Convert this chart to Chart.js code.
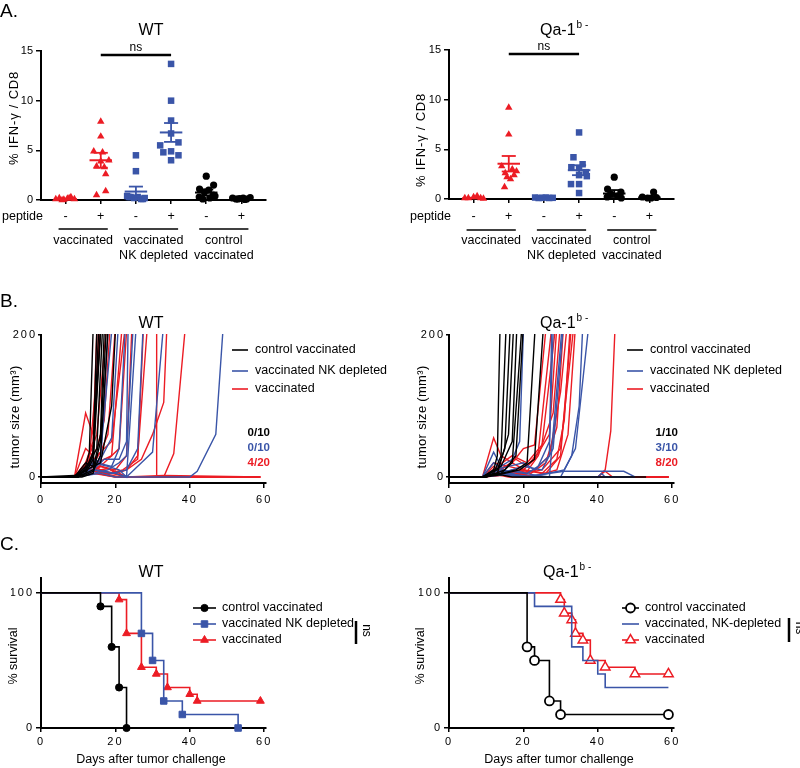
<!DOCTYPE html>
<html><head><meta charset="utf-8">
<script src="https://cdn.jsdelivr.net/npm/chart.js@4.4.1/dist/chart.umd.min.js"></script>
<style>
html,body{margin:0;padding:0;background:#fff;}
#fig{position:relative;width:800px;height:768px;overflow:hidden;background:#fff;}
#fig canvas{position:absolute;left:0;top:0;width:800px;height:768px;}
</style></head><body>
<div id="fig">
<canvas id="aWT" width="800" height="768"></canvas>
<canvas id="aQA" width="800" height="768"></canvas>
<canvas id="bWT" width="800" height="768"></canvas>
<canvas id="bQA" width="800" height="768"></canvas>
<canvas id="cWT" width="800" height="768"></canvas>
<canvas id="cQA" width="800" height="768"></canvas>
</div>
<script>
// ---------------- DATA ----------------
// Panel A: % IFN-γ / CD8, six columns (peptide - / + for three groups)
const aPeptide = ['-', '+', '-', '+', '-', '+'];
const aGroupLabels = ['vaccinated', 'vaccinated\nNK depleted', 'control\nvaccinated'];
const aTicks = [0, 5, 10, 15];

const wtIfnValues = [
  [0.1, 0.2, 0.05, 0.15, 0.3, 0.1, 0.0, 0.2],
  [7.9, 6.4, 4.9, 4.8, 4.0, 3.9, 3.4, 3.3, 2.6, 0.9, 0.5],
  [4.5, 2.9, 0.4, 0.3, 0.2, 0.3, 0.1, 0.2, 0.3, 0.1],
  [13.7, 10.0, 8.0, 6.7, 5.8, 5.5, 4.8, 4.9, 4.5, 4.0],
  [2.4, 1.5, 1.1, 1.0, 0.8, 0.5, 0.3, 0.2, 0.1, 0.4],
  [0.2, 0.1, 0.15, 0.2, 0.1, 0.25, 0.1, 0.05]
];
const wtIfnJitter = [
  [-0.28, -0.18, -0.05, 0.05, 0.15, 0.25, -0.1, 0.1],
  [0, 0, -0.2, 0.05, 0.23, 0, -0.12, 0.1, 0.14, 0.14, -0.12],
  [0, 0, -0.25, -0.15, -0.05, 0.05, 0.15, 0.25, -0.2, 0.2],
  [0, 0, 0, 0, 0.21, -0.31, -0.22, 0, 0.21, 0],
  [0, 0.21, -0.19, 0.07, -0.05, 0.2, -0.2, 0.1, -0.1, 0.25],
  [-0.25, -0.15, -0.05, 0.05, 0.15, 0.25, -0.1, 0.1]
];
const wtIfnMean = [0.1, 4.0, 0.85, 6.8, 0.75, 0.15];
const wtIfnSem = [0.03, 0.75, 0.5, 0.95, 0.3, 0.03];

const qaIfnValues = [
  [0.1, 0.1, 0.2, 0.3, 0.1, 0.05],
  [9.2, 6.5, 3.3, 3.0, 2.8, 2.6, 2.4, 2.2, 2.0, 1.2],
  [0.15, 0.1, 0.12, 0.15, 0.1, 0.12],
  [6.7, 4.2, 3.5, 3.2, 3.1, 2.7, 2.4, 2.3, 1.5, 1.5, 0.6],
  [2.2, 1.0, 0.7, 0.5, 0.3, 0.2, 0.1],
  [0.7, 0.2, 0.1, 0.1, 0.15]
];
const qaIfnJitter = [
  [-0.25, -0.15, 0, 0.1, 0.2, 0.28],
  [0, 0, -0.2, 0.1, 0.22, -0.1, 0.15, -0.05, 0.05, -0.12],
  [-0.25, -0.15, -0.05, 0.05, 0.15, 0.25],
  [0, -0.16, 0.1, -0.22, 0, 0.19, 0, 0.22, -0.23, 0, 0],
  [0, -0.19, 0.19, -0.1, 0.1, -0.2, 0.2],
  [0.12, -0.2, -0.05, 0.05, 0.2]
];
const qaIfnMean = [0.1, 3.55, 0.12, 2.9, 0.55, 0.15];
const qaIfnSem = [0.03, 0.78, 0.02, 0.5, 0.35, 0.1];

// Panel B: tumor size (mm3) per mouse, [day, size]
const bLegend = ['control vaccinated', 'vaccinated NK depleted', 'vaccinated'];
const bYTicks = [0, 200];
const dayTicks = [0, 20, 40, 60];
const wtFractions = ['0/10', '0/10', '4/20'];
const qaFractions = ['1/10', '3/10', '8/20'];

const wtTumorControl = [
  [[0,0],[9,0],[12,8],[14,30],[15,205]],
  [[0,0],[9,0],[12,15],[13,35],[14,205]],
  [[0,0],[9,2],[12,10],[14,35],[16,205]],
  [[0,0],[10,0],[13,20],[15,40],[16.5,205]],
  [[0,0],[9,0],[12,5],[14,25],[15.5,205]],
  [[0,0],[10,0],[14,10],[16,60],[17,205]],
  [[0,0],[9,0],[12,3],[14,8],[16,30],[18,205]],
  [[0,0],[9,0],[13,12],[16,20],[19,100],[20,205]],
  [[0,0],[11,0],[14,5],[16,50],[17.5,205]],
  [[0,0],[9,0],[12,20],[14,15],[16,205]]
];
const wtTumorNK = [
  [[0,0],[9,0],[12,10],[14,25],[16,20],[18,205]],
  [[0,0],[9,0],[13,15],[16,25],[19,55],[20.7,205]],
  [[0,0],[9,0],[12,5],[15,20],[19,15],[21,40],[22.6,205]],
  [[0,0],[9,0],[14,10],[17,25],[21,25],[23,50],[23.4,205]],
  [[0,0],[9,0],[14,5],[18,10],[21,20],[23,30],[24.7,205]],
  [[0,0],[9,0],[14,20],[18,15],[21,10],[23,0],[25.5,205]],
  [[0,0],[9,0],[14,10],[19,5],[23,10],[26,40],[27.4,205]],
  [[0,0],[9,0],[15,10],[20,5],[23,0],[27,20],[30,35],[32.8,205]],
  [[0,0],[9,0],[16,5],[20,0],[40,0],[42,8],[47,60],[48.9,205]],
  [[0,0],[9,0],[14,5],[16,30],[19,205]]
];
const wtTumorVacc = [
  [[0,0],[9,0],[12,90],[14,60],[16,205]],
  [[0,0],[9,0],[12,40],[14,30],[15.5,205]],
  [[0,0],[9,0],[12,20],[14,50],[15,205]],
  [[0,0],[10,0],[13,30],[15,60],[17.5,205]],
  [[0,0],[9,0],[12,15],[15,40],[17,80],[18.5,205]],
  [[0,0],[9,0],[13,10],[16,35],[18,60],[19.9,205]],
  [[0,0],[9,0],[12,5],[15,20],[19,30],[21.7,205]],
  [[0,0],[9,0],[14,10],[17,20],[21,40],[23,205]],
  [[0,0],[9,0],[13,5],[16,15],[20,10],[23,30],[24.4,205]],
  [[0,0],[9,0],[14,10],[18,5],[22,10],[26,25],[27.5,205]],
  [[0,0],[9,0],[14,8],[18,5],[23,10],[26,30],[28.5,205]],
  [[0,0],[9,0],[14,5],[20,0],[31,0],[31.1,205]],
  [[0,0],[9,0],[15,10],[20,5],[23,10],[27,25],[30,60],[33,105],[33.8,205]],
  [[0,0],[9,0],[15,5],[20,0],[33,0],[35.7,33],[38.7,205]],
  [[0,0],[9,0],[13,25],[16,205]],
  [[0,0],[9,0],[12,10],[15,30],[19,50],[22.5,205]],
  [[0,0],[9,0],[12,15],[14,10],[17,5],[21,0],[59,0]],
  [[0,0],[9,0],[13,20],[16,10],[19,5],[23,0],[59,0]],
  [[0,0],[9,0],[14,8],[18,12],[21,3],[24,0],[59,0]],
  [[0,0],[9,0],[12,5],[16,15],[20,8],[23,0],[33,2],[59,0]]
];

const qaTumorControl = [
  [[0,0],[9,0],[12,10],[13,30],[13.7,205]],
  [[0,0],[9,0],[12,5],[14,30],[15.3,205]],
  [[0,0],[9,0],[13,10],[15,40],[16.4,205]],
  [[0,0],[10,0],[13,5],[16,60],[17.3,205]],
  [[0,0],[9,0],[14,15],[17,50],[18.2,205]],
  [[0,0],[9,0],[14,5],[17,20],[19.5,205]],
  [[0,0],[10,0],[15,10],[18,30],[19.9,205]],
  [[0,0],[9,0],[14,5],[18,10],[21,20],[23.1,205]],
  [[0,0],[9,0],[15,5],[19,10],[23,25],[25.3,205]],
  [[0,0],[9,0],[14,3],[17,0],[53,0]]
];
const qaTumorNK = [
  [[0,0],[9,0],[12,35],[14,15],[17,25],[19,50],[20,205]],
  [[0,0],[9,0],[12,10],[16,15],[20,20],[23,10],[27,30],[27.6,205]],
  [[0,0],[9,0],[13,5],[17,10],[21,5],[24,15],[27,50],[28,205]],
  [[0,0],[9,0],[14,10],[20,5],[27,0],[30.3,205]],
  [[0,0],[9,0],[14,5],[20,15],[25,10],[28,40],[30.6,205]],
  [[0,0],[9,0],[15,5],[22,0],[30,0],[33,30],[35,100],[35.9,205]],
  [[0,0],[9,0],[15,3],[22,0],[31,10],[34,40],[37.4,205]],
  [[0,0],[9,0],[12,20],[15,8],[20,0],[31,8],[47,8],[50,0]],
  [[0,0],[9,0],[14,5],[19,0],[40,0],[41,5],[42,0],[50,0]],
  [[0,0],[9,0],[13,10],[18,3],[22,0],[49,0]]
];
const qaTumorVacc = [
  [[0,0],[9,0],[12,55],[14,30],[17,20],[20,40],[23,45],[26,205]],
  [[0,0],[9,0],[12,20],[16,15],[20,10],[23,25],[27,60],[28.9,205]],
  [[0,0],[9,0],[13,10],[17,20],[21,8],[24,30],[28,90],[29.8,205]],
  [[0,0],[9,0],[14,5],[18,10],[22,5],[26,20],[29,70],[30.7,205]],
  [[0,0],[9,0],[14,8],[19,5],[23,10],[27,30],[30,120],[31.6,205]],
  [[0,0],[9,0],[15,5],[20,10],[25,5],[29,25],[31,80],[32.5,205]],
  [[0,0],[9,0],[15,3],[20,5],[25,10],[30,40],[33.4,205]],
  [[0,0],[9,0],[16,5],[22,0],[29,10],[32,60],[33.9,205]],
  [[0,0],[9,0],[15,5],[21,0],[40,0],[42,10],[43.5,65],[44.6,205]],
  [[0,0],[9,0],[14,10],[18,25],[21,15],[24,35],[27.5,205]],
  [[0,0],[9,0],[13,15],[17,30],[21,20],[25,45],[28.5,205]],
  [[0,0],[9,0],[14,5],[20,10],[26,5],[30,30],[32.8,205]],
  [[0,0],[9,0],[12,15],[15,5],[20,3],[24,0],[59,0]],
  [[0,0],[9,0],[13,5],[18,8],[22,0],[59,0]],
  [[0,0],[9,0],[14,10],[19,5],[23,0],[59,0]],
  [[0,0],[9,0],[12,8],[17,3],[21,0],[40,0],[42,8],[44,0],[59,0]],
  [[0,0],[9,0],[15,5],[20,0],[59,0]],
  [[0,0],[9,0],[13,3],[16,0],[59,0]],
  [[0,0],[9,0],[14,5],[18,0],[59,0]],
  [[0,0],[9,0],[16,3],[20,0],[59,0]]
];

// Panel C: Kaplan-Meier % survival, [day, %]
const cYTicks = [0, 100];
const wtLegend = ['control vaccinated', 'vaccinated NK depleted', 'vaccinated'];
const qaLegend = ['control vaccinated', 'vaccinated, NK-depleted', 'vaccinated'];
const wtSurvControl = [[0,100],[16,90],[19,60],[21,30],[23,0]];
const wtSurvNK = [[0,100],[27,70],[30,50],[33,20],[38,10],[53,0]];
const wtSurvVacc = [[0,100],[21,95],[23,70],[27,45],[31,40],[34,30],[40,25],[42,20],[59,20]];
const qaSurvControl = [[0,100],[21,60],[23,50],[27,20],[30,10],[59,10]];
const qaSurvNK = [[0,100],[23,90],[33,60],[36,50],[40,40],[42,30],[59,30]];
const qaSurvVacc = [[0,100],[30,95],[31,85],[33,80],[34,70],[36,65],[38,50],[42,45],[50,40],[59,40]];

// ---------------- STYLE / HELPERS ----------------
const FONT = '"Liberation Sans", Arial, Helvetica, sans-serif';
Chart.defaults.font.family = FONT;
Chart.defaults.color = '#000';
const RED = '#ec1c24', BLUE = '#3a55a8', BLACK = '#000000';

function txt(ctx, s, x, y, o) {
  o = o || {};
  ctx.save();
  ctx.font = (o.weight || 'normal') + ' ' + (o.size || 12) + 'px ' + FONT;
  ctx.fillStyle = o.color || '#000';
  ctx.textAlign = o.align || 'left';
  ctx.textBaseline = o.base || 'alphabetic';
  try { ctx.letterSpacing = (o.ls || 0) + 'px'; } catch (e) {}
  if (o.rot) { ctx.translate(x, y); ctx.rotate(o.rot); ctx.fillText(s, 0, 0); }
  else ctx.fillText(s, x, y);
  const w = ctx.measureText(s).width;
  ctx.restore();
  return w;
}
function seg(ctx, x1, y1, x2, y2, color, w) {
  ctx.save(); ctx.strokeStyle = color; ctx.lineWidth = w; ctx.lineCap = 'butt';
  ctx.beginPath(); ctx.moveTo(x1, y1); ctx.lineTo(x2, y2); ctx.stroke(); ctx.restore();
}
function qaTitle(ctx, x, y) {
  const w = txt(ctx, 'Qa-1', x, y, {size: 16});
  txt(ctx, 'b -', x + w + 1, y - 7, {size: 10});
}
function yAxis(min, max, ticks, o) {
  return {
    type: 'linear', position: 'left', min: min, max: max,
    afterFit: s => { s.width = o.w; },
    afterBuildTicks: s => { s.ticks = ticks.map(v => ({value: v})); },
    border: {display: true, color: '#000', width: 2},
    grid: {display: true, drawOnChartArea: false, drawTicks: true, tickLength: o.tl, tickWidth: 1.5, tickColor: '#000', lineWidth: 1.5, color: '#000'},
    ticks: {display: true, font: {size: 11}, color: '#000', padding: o.pad, autoSkip: false, maxRotation: 0}
  };
}
function xAxis(min, max, ticks, o) {
  return {
    type: 'linear', position: 'bottom', min: min, max: max,
    afterFit: s => { s.height = o.h; },
    afterBuildTicks: s => { s.ticks = ticks.map(v => ({value: v})); },
    border: {display: true, color: '#000', width: 2},
    grid: {display: true, drawOnChartArea: false, drawTicks: true, tickLength: o.tl || 0, tickWidth: 1.5, tickColor: '#000', lineWidth: 1.5, color: '#000'},
    ticks: {display: o.labels !== false, font: {size: 11}, color: '#000', padding: o.pad || 0, autoSkip: false, maxRotation: 0}
  };
}
function padFor(a) {
  return {left: a.l - a.yW, top: a.t, right: 800 - a.r, bottom: 768 - a.b - a.xH};
}
const baseOpts = {responsive: false, animation: false, devicePixelRatio: 1, events: [],
  plugins: {legend: {display: false}, tooltip: {enabled: false}, title: {display: false}}};
const spacing = {id: 'spacing', beforeDraw(chart) { try { chart.ctx.letterSpacing = '2px'; } catch (e) {} }};

// ---------------- PANEL A ----------------
function buildA(id, area, vals, jit, means, sems, opt) {
  const cols = [RED, RED, BLUE, BLUE, BLACK, BLACK];
  const shapes = ['triangle', 'triangle', 'rect', 'rect', 'circle', 'circle'];
  const radii = [4.3, 4.3, 4.6, 4.6, 3.6, 3.6];
  const datasets = vals.map((arr, g) => ({
    type: 'scatter',
    data: arr.map((v, i) => ({x: g + 0.7 + jit[g][i], y: v})),
    pointStyle: shapes[g], pointRadius: radii[g],
    pointBackgroundColor: cols[g], pointBorderColor: cols[g], pointBorderWidth: 0,
    clip: false
  }));
  const plug = {
    id: 'annA',
    afterDatasetsDraw(chart) {
      const {ctx, scales: {x, y}} = chart;
      means.forEach((m, g) => {
        const cx = x.getPixelForValue(g + 0.7);
        const hw = x.getPixelForValue(0.32) - x.getPixelForValue(0);
        const cw = x.getPixelForValue(0.2) - x.getPixelForValue(0);
        const ym = y.getPixelForValue(m), yt = y.getPixelForValue(m + sems[g]), yb = y.getPixelForValue(m - sems[g]);
        seg(ctx, cx - hw, ym, cx + hw, ym, cols[g], 2);
        seg(ctx, cx, yt, cx, yb, cols[g], 1.8);
        seg(ctx, cx - cw, yt, cx + cw, yt, cols[g], 1.8);
        seg(ctx, cx - cw, yb, cx + cw, yb, cols[g], 1.8);
      });
    },
    afterDraw(chart) {
      const {ctx, scales: {x, y}} = chart;
      if (opt.qa) qaTitle(ctx, opt.titleX, 35); else txt(ctx, 'WT', opt.titleX, 35, {size: 16, align: 'center'});
      if (opt.panel) txt(ctx, opt.panel, 0, 17, {size: 19});
      const nsY = y.getPixelForValue(14.6);
      const x1 = x.getPixelForValue(1.7), x2 = x.getPixelForValue(3.7);
      seg(ctx, x1, nsY, x2, nsY, '#000', 2.5);
      txt(ctx, 'ns', (x1 + x2) / 2, nsY - 4, {size: 12, align: 'center'});
      txt(ctx, '% IFN-γ / CD8', opt.yTitleX, opt.yTitleY, {size: 13, align: 'center', base: 'middle', rot: -Math.PI / 2, ls: 0.8});
      txt(ctx, 'peptide', opt.pepX, 217, {size: 12.5, base: 'middle'});
      aPeptide.forEach((p, g) => txt(ctx, p, x.getPixelForValue(g + 0.7), 217, {size: 12.5, align: 'center', base: 'middle'}));
      aGroupLabels.forEach((lab, p) => {
        const l = x.getPixelForValue(2 * p + 0.5), r = x.getPixelForValue(2 * p + 1.9);
        seg(ctx, l, opt.lineY, r, opt.lineY, '#000', 1.5);
        lab.split('\n').forEach((s, k) => txt(ctx, s, (l + r) / 2, 241 + k * 15, {size: 12.5, align: 'center', base: 'middle'}));
      });
    }
  };
  return new Chart(document.getElementById(id), {
    type: 'scatter',
    data: {datasets},
    options: Object.assign({}, baseOpts, {
      layout: {padding: padFor(area)},
      scales: {
        x: xAxis(0, 6.4, aPeptide.map((p, g) => g + 0.7), {h: area.xH, tl: 4, labels: false}),
        y: yAxis(0, 15, aTicks, {w: area.yW, tl: 5, pad: 3})
      }
    }),
    plugins: [plug]
  });
}

buildA('aWT', {l: 41, t: 51, r: 266, b: 200, yW: 30, xH: 10}, wtIfnValues, wtIfnJitter, wtIfnMean, wtIfnSem,
  {titleX: 151, panel: 'A.', yTitleX: 14, yTitleY: 118, pepX: 2, lineY: 229});
buildA('aQA', {l: 449, t: 50, r: 674, b: 199, yW: 30, xH: 10}, qaIfnValues, qaIfnJitter, qaIfnMean, qaIfnSem,
  {qa: true, titleX: 540, yTitleX: 421, yTitleY: 140, pepX: 410, lineY: 230});

// ---------------- PANEL B ----------------
function buildB(id, area, groups, fractions, opt) {
  const cols = [BLACK, BLUE, RED];
  const datasets = [];
  groups.forEach((mice, gi) => mice.forEach(m => datasets.push({
    type: 'line', data: m.map(p => ({x: p[0], y: p[1]})),
    borderColor: cols[gi], borderWidth: 1.4, pointRadius: 0, pointHoverRadius: 0,
    tension: 0, fill: false, clip: 1
  })));
  const plug = {
    id: 'annB',
    afterDraw(chart) {
      const ctx = chart.ctx;
      if (opt.qa) qaTitle(ctx, opt.titleX, 328); else txt(ctx, 'WT', opt.titleX, 328, {size: 16, align: 'center'});
      if (opt.panel) txt(ctx, opt.panel, 0, 307, {size: 19});
      txt(ctx, 'tumor size (mm³)', opt.yTitleX, 417, {size: 13, align: 'center', base: 'middle', rot: -Math.PI / 2, ls: 0.3});
      const ly = [350, 371, 389];
      bLegend.forEach((s, k) => {
        seg(ctx, opt.legX, ly[k], opt.legX + 16, ly[k], cols[k], 1.6);
        txt(ctx, s, opt.legX + 23, ly[k], {size: 12.5, base: 'middle'});
      });
      const fy = [433, 448, 463];
      fractions.forEach((s, k) => txt(ctx, s, opt.fracX, fy[k], {size: 11.5, weight: 'bold', align: 'right', base: 'middle', color: cols[k]}));
    }
  };
  return new Chart(document.getElementById(id), {
    type: 'line',
    data: {datasets},
    options: Object.assign({}, baseOpts, {
      layout: {padding: padFor(area)},
      scales: {
        x: xAxis(0, 60.5, dayTicks, {h: area.xH, tl: 5, pad: 5}),
        y: yAxis(-8.5, 200, bYTicks, {w: area.yW, tl: 3, pad: 1})
      }
    }),
    plugins: [spacing, plug]
  });
}
buildB('bWT', {l: 41, t: 335, r: 266, b: 483, yW: 30, xH: 25}, [wtTumorControl, wtTumorNK, wtTumorVacc], wtFractions,
  {titleX: 151, panel: 'B.', yTitleX: 15, legX: 232, fracX: 270});
buildB('bQA', {l: 449, t: 335, r: 674, b: 483, yW: 30, xH: 25}, [qaTumorControl, qaTumorNK, qaTumorVacc], qaFractions,
  {qa: true, titleX: 540, yTitleX: 422, legX: 627, fracX: 678});

// ---------------- PANEL C ----------------
function buildC(id, area, curves, legend, opt) {
  const cols = [BLACK, BLUE, RED];
  const datasets = curves.map((c, k) => ({
    type: 'line', data: c.map(p => ({x: p[0], y: p[1]})),
    stepped: 'before', borderColor: cols[k], borderWidth: 1.6, tension: 0, fill: false, clip: false,
    pointStyle: opt.marks[k].style || 'circle',
    pointRadius: ctx => (ctx.dataIndex === 0 || !opt.marks[k].style) ? 0 : opt.marks[k].r,
    pointBackgroundColor: opt.marks[k].fill ? cols[k] : '#fff',
    pointBorderColor: cols[k], pointBorderWidth: opt.marks[k].bw, pointHoverRadius: 0
  }));
  const plug = {
    id: 'annC',
    afterDraw(chart) {
      const ctx = chart.ctx;
      if (opt.qa) qaTitle(ctx, opt.titleX, 577); else txt(ctx, 'WT', opt.titleX, 577, {size: 16, align: 'center'});
      if (opt.panel) txt(ctx, opt.panel, 0, 550, {size: 19});
      txt(ctx, '% survival', opt.yTitleX, 656, {size: 12.5, align: 'center', base: 'middle', rot: -Math.PI / 2});
      txt(ctx, 'Days after tumor challenge', opt.xTitleX, 760, {size: 12.5, align: 'center', base: 'middle'});
      const ly = [608, 624, 640];
      legend.forEach((s, k) => {
        seg(ctx, opt.legX, ly[k], opt.legX + opt.legW, ly[k], cols[k], 1.6);
        const mk = opt.marks[k];
        if (mk.style) {
          ctx.save();
          ctx.fillStyle = mk.fill ? cols[k] : '#fff';
          ctx.strokeStyle = cols[k];
          ctx.lineWidth = mk.bw;
          Chart.helpers.drawPoint(ctx, {pointStyle: mk.style, radius: mk.r, rotation: 0, borderWidth: mk.bw}, opt.legX + opt.legW / 2, ly[k]);
          ctx.restore();
        }
        txt(ctx, s, opt.legX + opt.legW + 6, ly[k], {size: 12.5, base: 'middle'});
      });
      seg(ctx, opt.nsX, opt.nsY1, opt.nsX, opt.nsY2, '#000', 2.5);
      txt(ctx, 'ns', opt.nsX + 4, (opt.nsY1 + opt.nsY2) / 2 - 2, {size: 12, align: 'center', base: 'bottom', rot: Math.PI / 2});
    }
  };
  return new Chart(document.getElementById(id), {
    type: 'line',
    data: {datasets},
    options: Object.assign({}, baseOpts, {
      layout: {padding: padFor(area)},
      scales: {
        x: xAxis(0, 60.5, dayTicks, {h: area.xH, tl: 4, pad: 3}),
        y: yAxis(0, 111, cYTicks, {w: area.yW, tl: 5, pad: 2})
      }
    }),
    plugins: [spacing, plug]
  });
}
buildC('cWT', {l: 41, t: 578, r: 266, b: 728, yW: 30, xH: 22}, [wtSurvControl, wtSurvNK, wtSurvVacc], wtLegend,
  {titleX: 151, panel: 'C.', yTitleX: 14, xTitleX: 151, legX: 193, legW: 23, nsX: 356, nsY1: 621, nsY2: 644,
   marks: [{style: 'circle', r: 3.6, fill: true, bw: 1}, {style: 'rect', r: 4.6, fill: true, bw: 1}, {style: 'triangle', r: 4.5, fill: true, bw: 1}]});
buildC('cQA', {l: 449, t: 578, r: 674, b: 728, yW: 30, xH: 22}, [qaSurvControl, qaSurvNK, qaSurvVacc], qaLegend,
  {qa: true, titleX: 543, yTitleX: 421, xTitleX: 559, legX: 622, legW: 17, nsX: 789, nsY1: 618, nsY2: 642,
   marks: [{style: 'circle', r: 4.5, fill: false, bw: 1.8}, {style: null, r: 0, fill: false, bw: 0}, {style: 'triangle', r: 5.5, fill: false, bw: 1.5}]});
</script>
</body></html>
